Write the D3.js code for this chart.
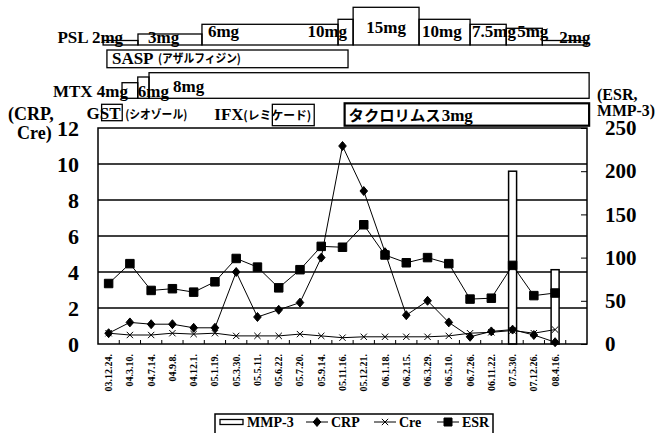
<!DOCTYPE html>
<head>
<meta charset="utf-8">
<script src="https://d3js.org/d3.v7.min.js"></script>
<style>
    body { margin:0; background:#fff; }
    svg { display:block; }
    .serif { font-family:"Liberation Serif","DejaVu Serif",serif; font-weight:bold; fill:#000; }
    .kana { font-family:"Noto Sans CJK JP",sans-serif; font-weight:bold; fill:#000; }
</style>
</head>
<body>
<div id="chart"></div>
<script>

    // ******************** Data ************************
    var dates = ["03.12.24.", "04.3.10.", "04.7.14.", "04.9.8.", "04.12.1.", "05.1.19.",
        "05.3.30.", "05.5.11.", "05.6.22.", "05.7.20.", "05.9.14.", "05.11.16.",
        "05.12.21.", "06.1.18.", "06.2.15.", "06.3.29.", "06.5.10.", "06.7.26.",
        "06.11.22.", "07.5.30.", "07.12.26.", "08.4.16."];

    // left axis
    var crp = [0.6, 1.2, 1.1, 1.1, 0.9, 0.9, 4.0, 1.5, 1.9, 2.3, 4.8, 11.0,
        8.5, 5.1, 1.6, 2.4, 1.2, 0.4, 0.7, 0.8, 0.5, 0.1];
    var cre = [0.6, 0.5, 0.5, 0.6, 0.55, 0.6, 0.45, 0.45, 0.45, 0.55, 0.45, 0.35,
        0.4, 0.4, 0.4, 0.4, 0.45, 0.6, 0.65, 0.75, 0.6, 0.8];
    // right axis
    var esr = [70, 93, 62, 64, 60, 72, 99, 89, 65, 86, 113, 112,
        138, 103, 94, 100, 93, 52, 53, 91, 56, 59];
    var mmp3 = [null, null, null, null, null, null, null, null, null, null, null, null,
        null, null, null, null, null, null, null, 200, null, 86];

    var leftTicks = [0, 2, 4, 6, 8, 10, 12];
    var rightTicks = [0, 50, 100, 150, 200, 250];

    // treatments, start / end measured in visits along the date axis
    var pslDose = [2, 3, 6, 10, 15, 10, 7.5, 5, 2];
    var pslFrom = [0.24, 1.88, 4.89, 11.29, 12.0, 15.1, 17.5, 19.2, 20.9];
    var pslTo   = [1.88, 4.89, 11.29, 12.0, 15.1, 17.5, 19.2, 20.9, 23.0];
    var mtxDose = [4, 6, 8];
    var mtxFrom = [1.13, 1.87, 2.4];
    var mtxTo   = [1.87, 2.4, 23.1];
    var sasp = [0.42, 11.76];
    var gst = [0.17, 1.14];
    var ifx = [8.2, 10.17];
    var tac = [11.6, 23.1];

    // ******************** Scales ************************
    var W = 662, H = 433;
    var L = 98, R = 587, T = 128, B = 344;

    var x = d3.scaleBand().domain(dates.concat([""])).range([L, R]);
    var yL = d3.scaleLinear().domain([0, 12]).range([B, T]);
    var yR = d3.scaleLinear().domain([0, 250]).range([B, T]);
    var t = d3.scaleLinear().domain([0, dates.length + 1]).range([L, R]);
    var cx = function (i) { return x(dates[i]) + x.bandwidth() / 2; };

    // box heights of the dose steps
    var pslH = d3.scaleLinear().domain([2, 3, 5, 6, 7.5, 10, 15]).range([4.5, 11, 16.7, 20.7, 20.7, 25.7, 37.7]);
    var mtxH = d3.scaleLinear().domain([4, 6, 8]).range([15.6, 21.3, 25.6]);

    var svg = d3.select("#chart").append("svg")
        .attr("width", W)
        .attr("height", H);
    svg.append("rect").attr("width", W).attr("height", H).attr("fill", "#fff");

    // grid
    svg.append("g").selectAll("line")
        .data(leftTicks.filter(function (d) { return d > 0 && d < 12; }))
        .enter().append("line")
        .attr("x1", L).attr("x2", R)
        .attr("y1", yL).attr("y2", yL)
        .attr("stroke", "#000").attr("stroke-width", 1.4);

    // MMP-3 bars
    svg.append("g").selectAll("rect")
        .data(mmp3.map(function (v, i) { return {v: v, i: i}; }).filter(function (d) { return d.v != null; }))
        .enter().append("rect")
        .attr("x", function (d) { return cx(d.i) - 4; })
        .attr("width", 8)
        .attr("y", function (d) { return yR(d.v); })
        .attr("height", function (d) { return B - yR(d.v); })
        .attr("fill", "#fff").attr("stroke", "#000").attr("stroke-width", 1.5);

    // series lines
    function drawLine(vals, y) {
        var line = d3.line()
            .x(function (d, i) { return cx(i); })
            .y(function (d) { return y(d); });
        svg.append("path").attr("d", line(vals))
            .attr("fill", "none").attr("stroke", "#000").attr("stroke-width", 1);
    }
    drawLine(cre, yL);
    drawLine(esr, yR);
    drawLine(crp, yL);

    var diamond = { draw: function (c, s) { var r = Math.sqrt(s) / 2; c.moveTo(0, -r); c.lineTo(r * 0.85, 0); c.lineTo(0, r); c.lineTo(-r * 0.85, 0); c.closePath(); } };
    var cross = { draw: function (c, s) { var r = Math.sqrt(s) / 2; c.moveTo(-r, -r); c.lineTo(r, r); c.moveTo(r, -r); c.lineTo(-r, r); } };

    function drawMarks(vals, y, type, size, filled) {
        svg.append("g").selectAll("path")
            .data(vals)
            .enter().append("path")
            .attr("transform", function (d, i) { return "translate(" + cx(i) + "," + y(d) + ")"; })
            .attr("d", d3.symbol().type(type).size(size))
            .attr("fill", filled ? "#000" : "none")
            .attr("stroke", "#000").attr("stroke-width", 1);
    }
    drawMarks(cre, yL, cross, 40, false);
    drawMarks(esr, yR, d3.symbolSquare, 72, true);
    drawMarks(crp, yL, diamond, 80, true);

    // frame
    svg.append("rect").attr("x", L).attr("y", T).attr("width", R - L).attr("height", B - T)
        .attr("fill", "none").attr("stroke", "#000").attr("stroke-width", 1.5);

    // x ticks between visits, pointing inwards
    svg.append("g").selectAll("line")
        .data(x.domain().slice(1))
        .enter().append("line")
        .attr("x1", function (d) { return x(d); }).attr("x2", function (d) { return x(d); })
        .attr("y1", B).attr("y2", B - 4)
        .attr("stroke", "#000");

    // axes
    var gx = svg.append("g").attr("class", "serif")
        .attr("transform", "translate(0," + B + ")")
        .call(d3.axisBottom(x).tickSize(0));
    gx.select(".domain").remove();
    gx.selectAll("text")
        .attr("transform", "rotate(-90)")
        .attr("text-anchor", "end")
        .attr("x", -10).attr("y", 0).attr("dy", "0.35em")
        .style("font-family", "Liberation Serif").style("font-weight", "bold").style("font-size", "10px");

    var gl = svg.append("g")
        .attr("transform", "translate(" + L + ",0)")
        .call(d3.axisLeft(yL).tickValues(leftTicks).tickSize(0).tickPadding(19));
    gl.select(".domain").remove();
    gl.selectAll("text").attr("class", "serif").style("font-size", "22px").attr("fill", "#000");

    var gr = svg.append("g")
        .attr("transform", "translate(" + R + ",0)")
        .call(d3.axisRight(yR).tickValues(rightTicks).tickSizeInner(-6).tickSizeOuter(0).tickPadding(18));
    gr.select(".domain").remove();
    gr.selectAll("line").attr("stroke", "#000");
    gr.selectAll("text").attr("class", "serif").style("font-size", "21px").attr("fill", "#000");

    // axis titles
    function txt(cls, xx, yy, s, size, anchor) {
        return svg.append("text").attr("class", cls)
            .attr("x", xx).attr("y", yy)
            .attr("text-anchor", anchor || "start")
            .style("font-size", size + "px").text(s);
    }
    txt("serif", 8, 120, "(CRP,", 18);
    txt("serif", 17, 139, "Cre)", 18);
    txt("serif", 597, 100, "(ESR,", 16);
    txt("serif", 597, 116, "MMP-3)", 16).attr("textLength", 58).attr("lengthAdjust", "spacingAndGlyphs");

    // ******************** Treatment boxes ************************
    var box = svg.append("g");
    function step(from, to, top, bottom, width) {
        box.append("rect")
            .attr("x", t(from)).attr("y", top)
            .attr("width", t(to) - t(from)).attr("height", bottom - top)
            .attr("fill", "none").attr("stroke", "#000").attr("stroke-width", width || 1.3);
    }

    // PSL
    var pslBase = 45;
    var pslLabel = [["end", 20], ["start", 10], ["start", 6], ["end", -6], ["middle", 0],
        ["start", 3], ["start", 2], ["start", 11], ["start", 17]];
    pslDose.forEach(function (d, i) {
        step(pslFrom[i], pslTo[i], pslBase - pslH(d), pslBase);
    });
    pslDose.forEach(function (d, i) {
        var a = pslLabel[i][0];
        var xx = a === "end" && i === 0 ? t(pslFrom[i]) + pslLabel[i][1]
            : a === "end" ? t(pslTo[i]) + pslLabel[i][1]
            : a === "middle" ? (t(pslFrom[i]) + t(pslTo[i])) / 2
            : t(pslFrom[i]) + pslLabel[i][1];
        var yy = d <= 3 ? 43 : (d >= 15 ? 33 : 37);
        txt("serif", xx, yy, (i === 0 ? "PSL " : "") + d + "mg", 17, a);
    });

    // SASP
    step(sasp[0], sasp[1], 50, 67.7);
    txt("serif", t(sasp[0]) + 5, 63.5, "SASP", 17);
    txt("kana", t(sasp[0]) + 51, 63, "(アザルフィジン)", 12).attr("textLength", 83).attr("lengthAdjust", "spacingAndGlyphs");

    // MTX
    var mtxBase = 98.3;
    mtxDose.forEach(function (d, i) {
        step(mtxFrom[i], mtxTo[i], mtxBase - mtxH(d), mtxBase);
    });
    txt("serif", t(mtxFrom[0]) + 6, 97, "MTX 4mg", 17, "end");
    txt("serif", t(mtxFrom[1]), 97, "6mg", 17);
    txt("serif", t(mtxFrom[2]) + 24, 91.5, "8mg", 17);

    // GST, IFX, tacrolimus
    step(gst[0], gst[1], 104.3, 120.7);
    txt("serif", t(gst[0]) + 19, 119, "GST", 17, "end");
    txt("kana", t(gst[1]) + 3, 119, "(シオゾール)", 12).attr("textLength", 62).attr("lengthAdjust", "spacingAndGlyphs");

    step(ifx[0], ifx[1], 104.3, 125.7);
    txt("serif", t(ifx[0]) - 58, 120, "IFX", 17);
    txt("kana", t(ifx[0]) - 29, 120, "(レミケード)", 12).attr("textLength", 68).attr("lengthAdjust", "spacingAndGlyphs");

    step(tac[0], tac[1], 103.3, 125.7, 2.2);
    txt("kana", t(tac[0]) + 4, 121, "タクロリムス", 15).attr("textLength", 92).attr("lengthAdjust", "spacingAndGlyphs");
    txt("serif", t(tac[0]) + 97, 121, "3mg", 17);

    // ******************** Legend ************************
    var lg = svg.append("g");
    lg.append("rect").attr("x", 215).attr("y", 414).attr("width", 278).attr("height", 26)
        .attr("fill", "#fff").attr("stroke", "#000").attr("stroke-width", 1.5);
    var ly = 422;
    lg.append("rect").attr("x", 220).attr("y", ly - 2.5).attr("width", 23).attr("height", 5)
        .attr("fill", "#fff").attr("stroke", "#000").attr("stroke-width", 1.3);
    var items = [["MMP-3", 247, null], ["CRP", 331, diamond], ["Cre", 399, cross], ["ESR", 462, d3.symbolSquare]];
    items.forEach(function (it) {
        if (it[2]) {
            var x0 = it[1] - 25;
            lg.append("line").attr("x1", x0).attr("x2", x0 + 22).attr("y1", ly).attr("y2", ly).attr("stroke", "#000");
            lg.append("path").attr("transform", "translate(" + (x0 + 11) + "," + ly + ")")
                .attr("d", d3.symbol().type(it[2]).size(it[2] === diamond ? 80 : it[2] === cross ? 40 : 64))
                .attr("fill", it[2] === cross ? "none" : "#000").attr("stroke", "#000");
        }
        lg.append("text").attr("class", "serif").attr("x", it[1]).attr("y", ly + 5)
            .style("font-size", "14px").text(it[0]);
    });

</script>
</body>
